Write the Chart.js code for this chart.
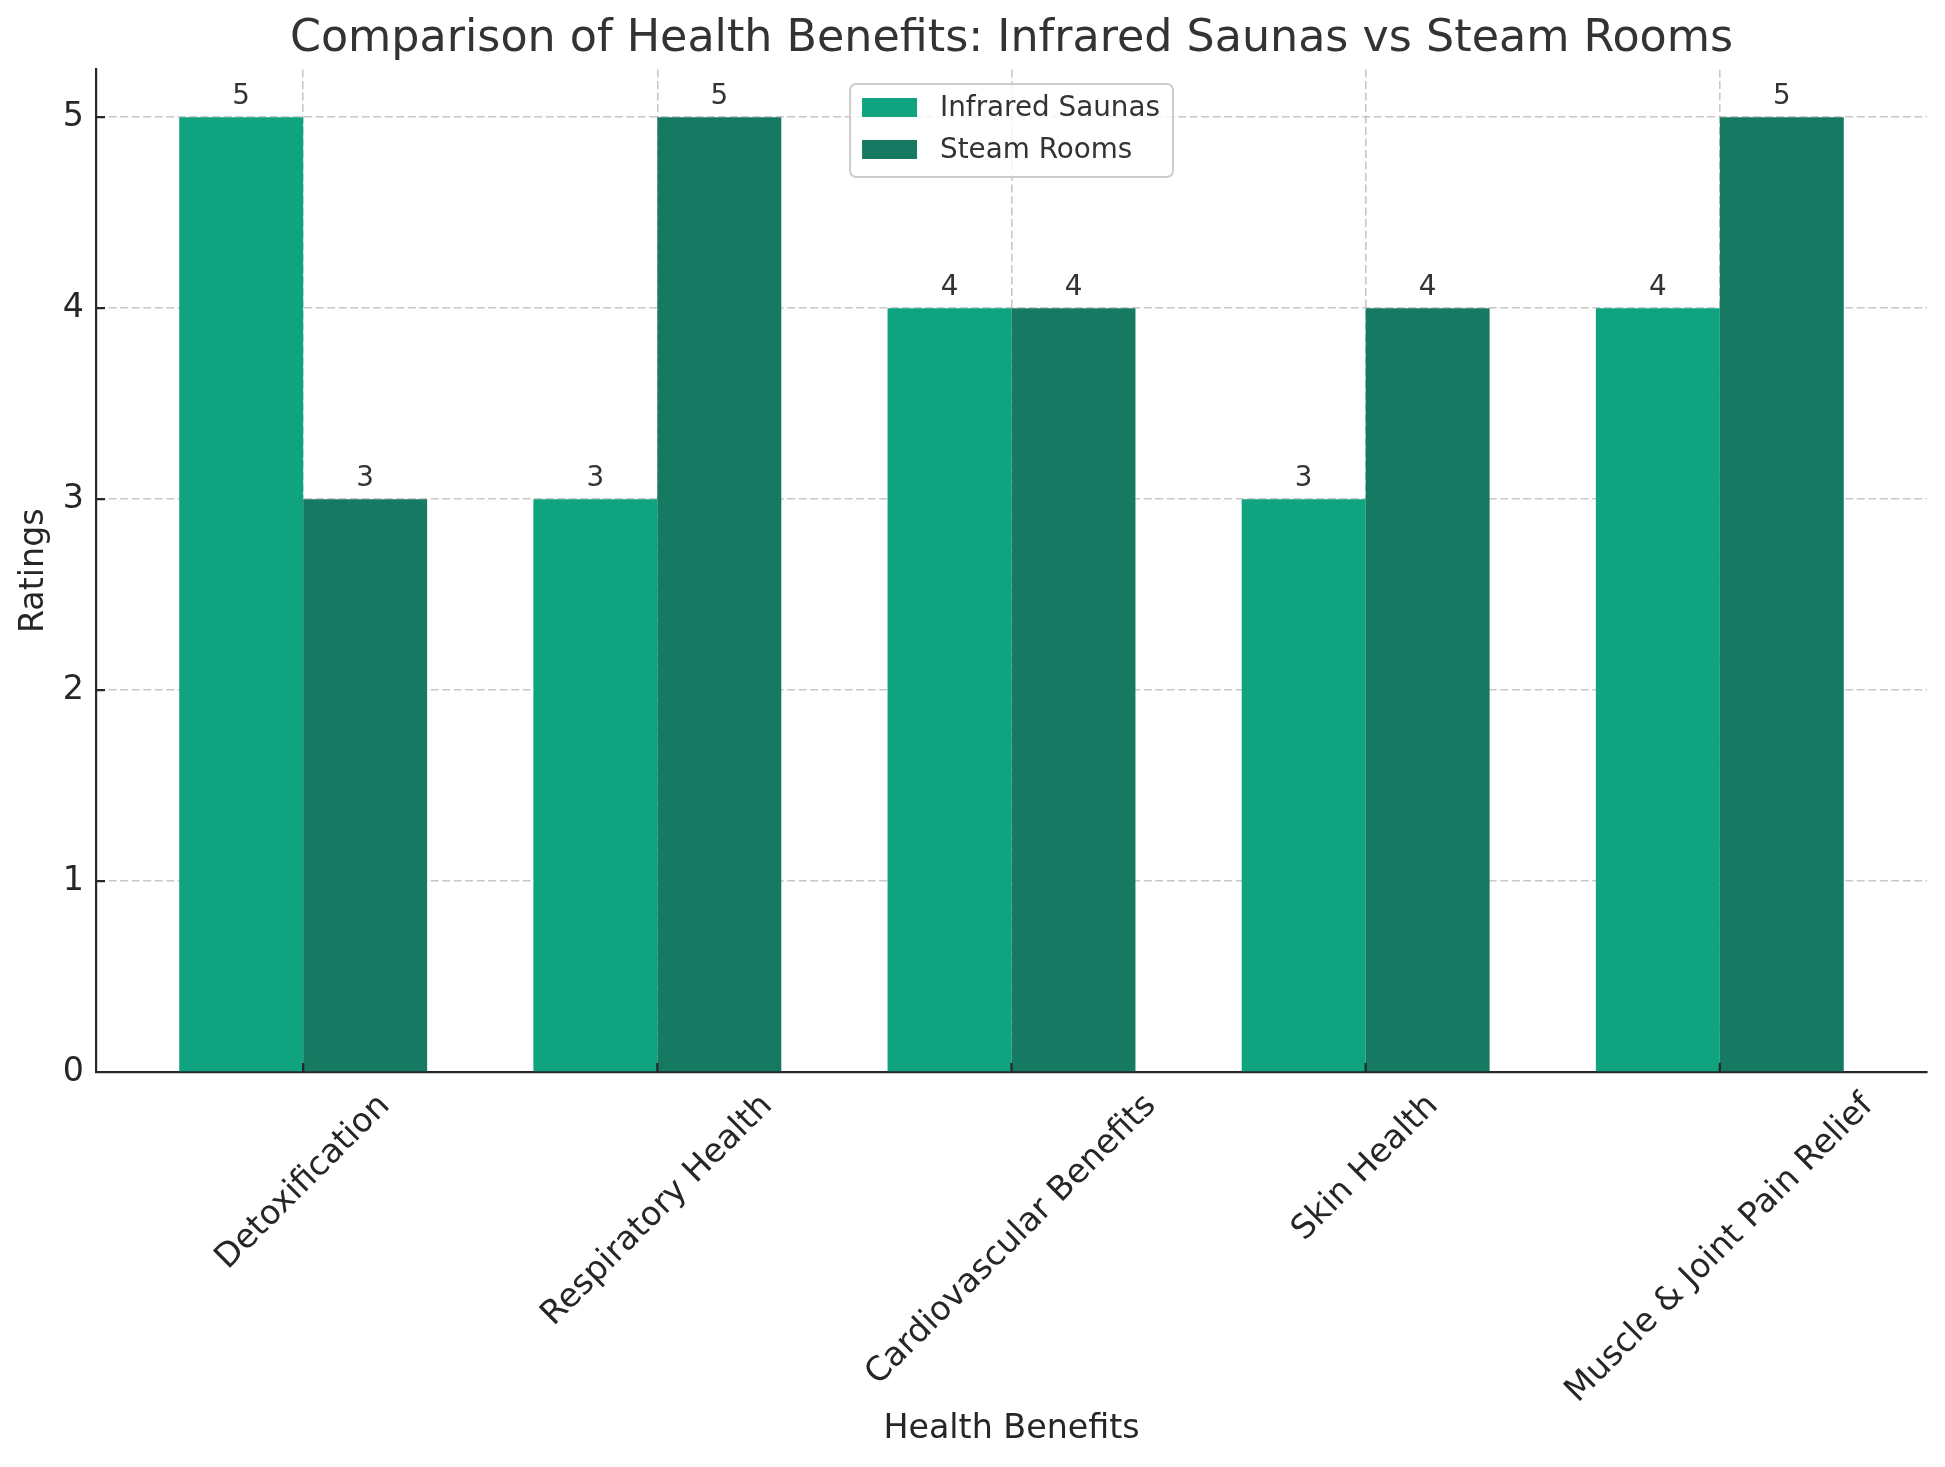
<!DOCTYPE html>
<html>
<head>
<meta charset="utf-8">
<title>Health Benefits: Infrared Saunas vs Steam Rooms</title>
<script src="https://cdn.jsdelivr.net/npm/chart.js@4.4.1/dist/chart.umd.min.js"></script>
<style>
  html, body { margin: 0; padding: 0; background: #fff; }
  #wrap { width: 1945px; height: 1467px; position: relative; }
</style>
</head>
<body>
<div id="wrap"><canvas id="chart"></canvas></div>
<script>
// ====== DATA ======
const categories = ["Detoxification", "Respiratory Health", "Cardiovascular Benefits", "Skin Health", "Muscle & Joint Pain Relief"];
const infraredRatings = [5, 3, 4, 3, 4];
const steamRatings = [3, 5, 4, 4, 5];
const yTicks = [0, 1, 2, 3, 4, 5];
const seriesNames = ["Infrared Saunas", "Steam Rooms"];

const FONT = "'DejaVu Sans', 'Liberation Sans', sans-serif";
const gridColor = "rgba(176,176,176,0.7)";
const axisColor = "#262626";

// ====== PLUGIN: labels, ticks, legend (matplotlib style) ======
const mplExtras = {
  id: "mplExtras",
  afterDraw(chart) {
    const ctx = chart.ctx;
    const area = chart.chartArea;
    const xs = chart.scales.x, ys = chart.scales.y;
    ctx.save();

    // inward tick marks
    ctx.strokeStyle = axisColor;
    ctx.lineWidth = 2.2;
    ctx.beginPath();
    yTicks.forEach(v => {
      const y = ys.getPixelForValue(v);
      ctx.moveTo(area.left, y); ctx.lineTo(area.left + 9, y);
    });
    categories.forEach((c, i) => {
      const x = xs.getPixelForValue(i);
      ctx.moveTo(x, area.bottom); ctx.lineTo(x, area.bottom - 9);
    });
    ctx.stroke();

    // value labels above bars
    ctx.fillStyle = "#333333";
    ctx.font = "27.8px " + FONT;
    ctx.textAlign = "center";
    ctx.textBaseline = "alphabetic";
    chart.data.datasets.forEach((ds, di) => {
      chart.getDatasetMeta(di).data.forEach((bar, i) => {
        ctx.fillText(String(ds.data[i].y), bar.x, bar.y - 13);
      });
    });

    // rotated category labels, centred under the tick like matplotlib
    ctx.fillStyle = axisColor;
    ctx.font = "33.3px " + FONT;
    const fs = 33.3, h = fs * 1.16, s = Math.SQRT1_2;
    categories.forEach((c, i) => {
      const w = ctx.measureText(c).width;
      const boxH = (w + h) * s;
      const cx = xs.getPixelForValue(i);
      const cy = area.bottom + 15 + boxH / 2;
      ctx.save();
      ctx.translate(cx, cy);
      ctx.rotate(-Math.PI / 4);
      ctx.textAlign = "center";
      ctx.textBaseline = "middle";
      ctx.fillText(c, 0, 0);
      ctx.restore();
    });

    // legend box (upper centre, inside the axes)
    ctx.font = "27.8px " + FONT;
    const textW = Math.max(...seriesNames.map(n => ctx.measureText(n).width));
    const boxW = 12 + 55 + 23 + textW + 13;
    const boxH = 93;
    const bx = (area.left + area.right) / 2 - boxW / 2;
    const by = area.top + 14.5;
    ctx.beginPath();
    ctx.roundRect(bx, by, boxW, boxH, 6);
    ctx.fillStyle = "rgba(255,255,255,0.8)";
    ctx.fill();
    ctx.strokeStyle = "#cccccc";
    ctx.lineWidth = 2;
    ctx.stroke();
    chart.data.datasets.forEach((ds, di) => {
      const rowY = by + 23.5 + di * 42;
      ctx.fillStyle = ds.backgroundColor;
      ctx.fillRect(bx + 12, rowY - 9.5, 55, 19);
      ctx.fillStyle = "#333333";
      ctx.textAlign = "left";
      ctx.textBaseline = "middle";
      ctx.fillText(ds.label, bx + 90, rowY + 1);
    });

    ctx.restore();
  }
};

// ====== CHART ======
new Chart(document.getElementById("chart").getContext("2d"), {
  type: "bar",
  data: {
    datasets: [
      { label: seriesNames[0], data: categories.map((c, i) => ({ x: i, y: infraredRatings[i] })), backgroundColor: "#10a37f", borderWidth: 0 },
      { label: seriesNames[1], data: categories.map((c, i) => ({ x: i, y: steamRatings[i] })), backgroundColor: "#167a62", borderWidth: 0 }
    ]
  },
  options: {
    responsive: true,
    maintainAspectRatio: false,
    animation: false,
    categoryPercentage: 0.7,
    barPercentage: 1.0,
    layout: { padding: { top: 0, right: 18, bottom: 0, left: 0 } },
    plugins: {
      legend: { display: false },
      tooltip: { enabled: false },
      title: {
        display: true,
        fullSize: false,
        text: "Comparison of Health Benefits: Infrared Saunas vs Steam Rooms",
        color: "#333333",
        font: { family: FONT, size: 44.4, weight: "normal" },
        padding: { top: 13, bottom: 3.2 }
      }
    },
    scales: {
      x: {
        type: "linear",
        min: -0.585,
        max: 4.585,
        offset: false,
        z: 1,
        afterBuildTicks: scale => { scale.ticks = categories.map((c, i) => ({ value: i })); },
        afterFit: scale => { scale.height = 395; },
        ticks: { display: false, includeBounds: false },
        grid: { color: gridColor, lineWidth: 1.6, drawTicks: false, offset: false },
        border: { display: true, color: axisColor, width: 2.2, dash: [8, 3.5] },
        title: {
          display: true,
          text: "Health Benefits",
          color: axisColor,
          font: { family: FONT, size: 33.3 },
          padding: { top: 0, bottom: 17.5 }
        }
      },
      y: {
        type: "linear",
        min: 0,
        max: 5.25,
        z: 1,
        afterBuildTicks: scale => { scale.ticks = yTicks.map(v => ({ value: v })); },
        afterFit: scale => { scale.width = 96; },
        ticks: { color: axisColor, padding: 12, includeBounds: false, font: { family: FONT, size: 33.3 } },
        grid: { color: gridColor, lineWidth: 1.6, drawTicks: false },
        border: { display: true, color: axisColor, width: 2.2, dash: [8, 3.5] },
        title: {
          display: true,
          text: "Ratings",
          color: axisColor,
          font: { family: FONT, size: 33.3 },
          padding: { top: 14.5, bottom: 0 }
        }
      }
    }
  },
  plugins: [mplExtras]
});
</script>
</body>
</html>
